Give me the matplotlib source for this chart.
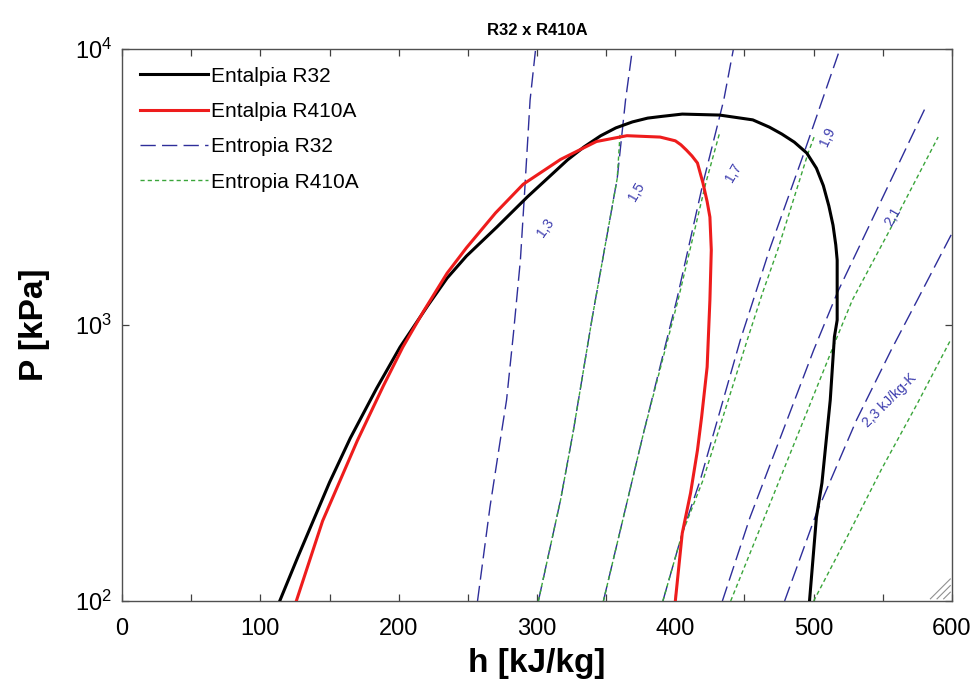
import matplotlib
matplotlib.use("Agg")
import matplotlib.pyplot as plt
from matplotlib.ticker import NullLocator, MultipleLocator, LogFormatterSciNotation

plt.rcParams['font.family'] = ['Liberation Sans', 'DejaVu Sans']
plt.rcParams['mathtext.default'] = 'regular'

# ---- Saturation domes (h [kJ/kg], P [kPa]) ----
r32_h = [114, 127, 150, 165, 184, 201, 221, 235, 249, 271, 293, 322, 334, 346, 357, 369, 380, 390,
         405, 432, 456, 468, 477, 486, 495, 502, 507, 511, 514, 516, 517, 517, 515, 512, 506, 502, 497]
r32_P = [100, 144, 269, 389, 589, 832, 1175, 1479, 1778, 2265, 2911, 3963, 4420, 4850, 5180, 5445,
         5620, 5700, 5812, 5765, 5538, 5212, 4920, 4600, 4201, 3700, 3200, 2700, 2300, 1950, 1720,
         1042, 906, 535, 268, 201, 100]

r410_h = [126, 145, 170, 189, 203, 218, 235, 249, 270, 290, 317, 343, 365, 389, 400, 404, 408,
          412, 416, 420, 423, 425, 426, 425, 423, 419, 416, 411, 405, 400]
r410_P = [100, 195, 380, 603, 832, 1122, 1541, 1905, 2547, 3236, 3981, 4624, 4853, 4798, 4650,
          4500, 4305, 4100, 3864, 3266, 2800, 2461, 1871, 1233, 705, 464, 352, 246, 176, 100]

# ---- Isentropes R32 (blue) ----
s32_labels = ['1,3', '1,5', '1,7', '1,9', '2,1', '2,3 kJ/kg-K']
s32_h = [
    [257, 266, 273, 278, 283, 288, 291, 295, 299],
    [301, 317, 326, 340, 358, 364, 369],
    [348, 377, 401, 420, 435, 442],
    [391, 405, 418, 447, 458, 468, 492, 519],
    [434, 454, 500, 517, 581],
    [479, 502, 531, 556, 575, 600],
]
s32_P = [
    [100, 219, 370, 535, 935, 1721, 3006, 6531, 10000],
    [100, 232, 406, 1069, 3400, 6531, 10000],
    [100, 406, 1233, 3266, 6531, 10000],
    [100, 176, 274, 883, 1306, 1871, 4064, 10000],
    [100, 201, 811, 1306, 6166],
    [100, 208, 453, 811, 1233, 2150],
]
# label positions (h, P) and rotation
lab_h = [306, 372, 442, 510, 557, 555]
lab_P = [2244, 3034, 3556, 4798, 2461, 535]
lab_rot = [55, 60, 60, 65, 60, 45]

# ---- Isentropes R410A (green) ----
s410_h = [
    [301, 317, 326, 340, 358, 360],
    [348, 377, 402, 422, 432],
    [391, 405, 420, 452, 463, 474, 496, 501],
    [440, 454, 517, 528, 555, 590],
    [500, 524, 549, 575, 599],
]
s410_P = [
    [100, 232, 406, 1069, 3400, 4900],
    [100, 406, 1233, 3266, 4963],
    [100, 176, 274, 883, 1306, 1871, 4201, 4900],
    [100, 149, 906, 1233, 2208, 4800],
    [100, 170, 300, 520, 883],
]

blue = '#2e2e9a'
blue_txt = '#3c3cae'
green = '#3aa53a'

fig = plt.figure(figsize=(9.73, 6.85), dpi=100)
ax = fig.add_axes([0.1254, 0.1226, 0.853, 0.8058])

for i, (hh, pp) in enumerate(zip(s32_h, s32_P)):
    ax.plot(hh, pp, color=blue, lw=1.0, dashes=(11, 4.5),
            label='Entropia R32' if i == 0 else None, zorder=2)
for i, (hh, pp) in enumerate(zip(s410_h, s410_P)):
    ax.plot(hh, pp, color=green, lw=1.0, dashes=(3, 2.2),
            label='Entropia R410A' if i == 0 else None, zorder=3)

ax.plot(r32_h, r32_P, color='black', lw=2.2, label='Entalpia R32', zorder=4,
        solid_joinstyle='round')
ax.plot(r410_h, r410_P, color='#ee1c1c', lw=2.2, label='Entalpia R410A', zorder=5,
        solid_joinstyle='round')

for t, h, p, r in zip(s32_labels, lab_h, lab_P, lab_rot):
    ax.text(h, p, t, color=blue_txt, fontsize=10, rotation=r, rotation_mode='anchor',
            ha='center', va='center', zorder=6)

ax.set_yscale('log')
ax.set_xlim(0, 600)
ax.set_ylim(100, 10000)
ax.xaxis.set_major_locator(MultipleLocator(100))
ax.xaxis.set_minor_locator(MultipleLocator(50))
ax.yaxis.set_minor_locator(NullLocator())
ax.yaxis.set_major_formatter(LogFormatterSciNotation())
ax.tick_params(which='both', direction='in', top=True, right=True, length=5,
               width=0.9, color='#404040', labelsize=17)
ax.tick_params(axis='x', which='both', pad=12)
ax.tick_params(axis='y', which='both', pad=7)

for sp in ax.spines.values():
    sp.set_color('#505050')
    sp.set_linewidth(1.0)

ax.set_xlabel('h [kJ/kg]', fontsize=24, fontweight='bold', labelpad=6)
ax.set_ylabel('P [kPa]', fontsize=24, fontweight='bold', labelpad=18)
ax.set_title('R32 x R410A', fontsize=12, fontweight='bold', pad=10)

handles, labels = ax.get_legend_handles_labels()
order = ['Entalpia R32', 'Entalpia R410A', 'Entropia R32', 'Entropia R410A']
hd = {l: h for h, l in zip(handles, labels)}
ax.legend([hd[o] for o in order], order, loc='upper left', frameon=False,
          fontsize=15, handlelength=3.3, handletextpad=0.1, labelspacing=0.78,
          borderaxespad=0.5, borderpad=0.35)

# resize grip decoration
for a in (0.008, 0.016, 0.024):
    ax.plot([1 - a * 1.0 - 0.002, 1 - 0.002], [0.004, 0.004 + a * 1.5], transform=ax.transAxes,
            color='#909090', lw=0.8, clip_on=False, zorder=7)

fig.savefig('out.png', dpi=100)
